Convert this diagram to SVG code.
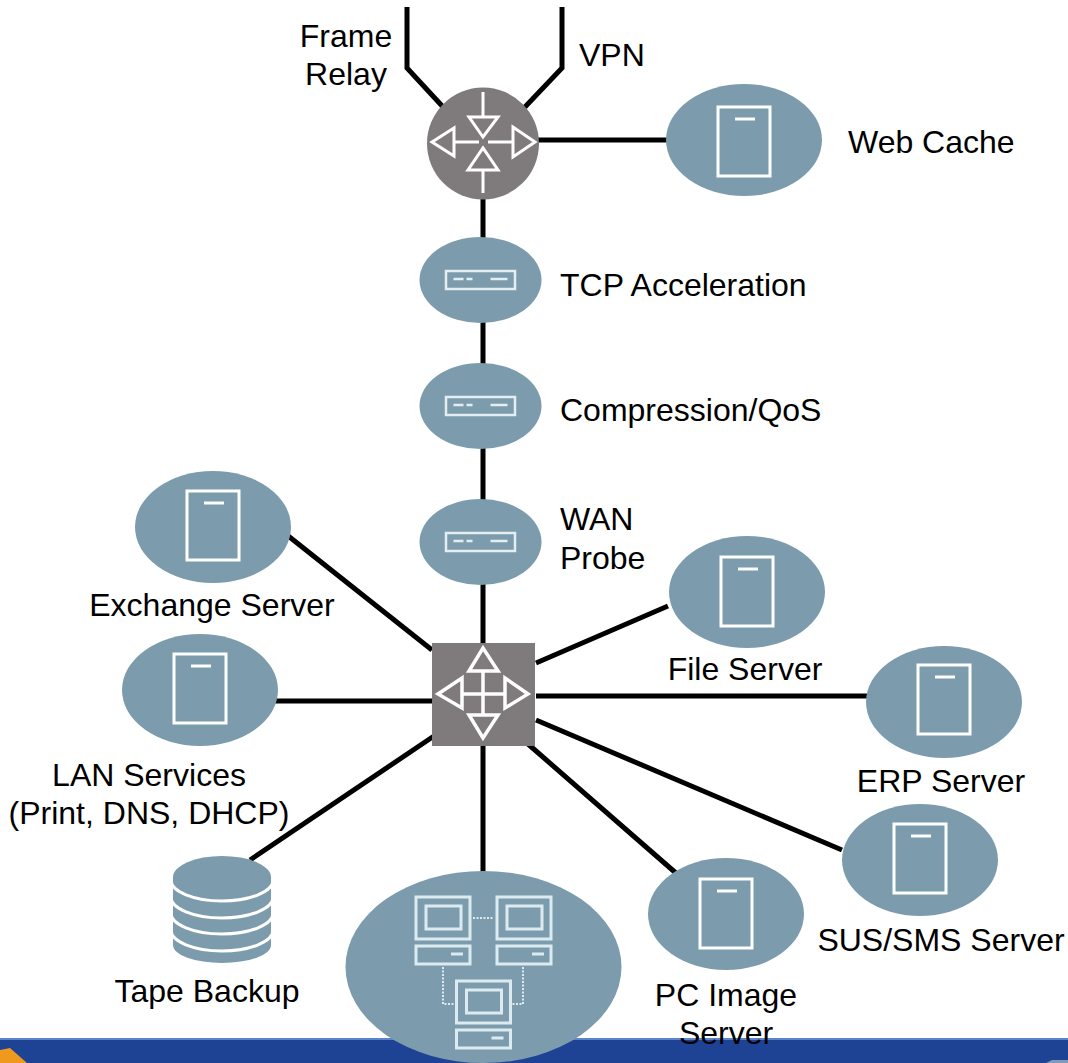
<svg xmlns="http://www.w3.org/2000/svg" width="1068" height="1063" viewBox="0 0 1068 1063">
<style>
text{font-family:"Liberation Sans",Arial,sans-serif;font-size:32px;fill:#000;transform:translateY(1px)}
.m{text-anchor:middle}
.c{fill:none;stroke:#000;stroke-width:5}
.b{fill:#7c9cad}
.w{fill:none;stroke:#fff;stroke-width:3}
.a{fill:none;stroke:#fff;stroke-width:3.500}
.l{fill:none;stroke:#e4eef2;stroke-width:2.500}
.p{fill:none;stroke:#dcebf0;stroke-width:3}
.d{fill:none;stroke:#dfeaef;stroke-width:2;stroke-dasharray:2 1.500}
.g{fill:#7f7b7c}
</style>
<defs>
<ellipse id="disc" class="b" rx="78" ry="56"/>
<g id="icon"><rect class="w" x="-26" y="0" width="52" height="69"/><path class="w" d="M-9 12H11"/></g>
<g id="box"><ellipse class="b" rx="61" ry="43"/><rect class="l" x="-34.500" y="-9" width="69" height="18"/><path class="l" d="M-27-1H-17M-14-1H-8M10-1H27"/></g>
<g id="pc"><rect class="p" x="-27" y="-42" width="54" height="42"/><rect class="p" x="-17" y="-33" width="35" height="23"/><rect class="p" x="-27" y="7" width="54" height="18"/><path class="p" d="M8 15H20"/></g>
</defs>
<rect x="0" y="1038" width="1068" height="25" fill="#1e4394"/>
<rect x="0" y="1038" width="1068" height="2" fill="#5c84c8"/>
<path d="M0 1050L10 1048L27 1063H0Z" fill="#ef9a1e"/>
<path d="M1046 1063L1052 1060H1068V1063Z" fill="#7f9ab8"/>
<g id="connectors">
<path class="c" d="M407 7V68L444 108M562 7V68L524 108M537 140H668M483 198V238M483 322V364M483 448V500M483 584V644M536 663L668 606M536 696H868M536 720L842 850M528 744L677 874M483 745V872M434 736L250 860M432 701H275M432 650L287 535"/>
</g>
<g id="router"><circle class="g" cx="483" cy="143.500" r="56"/><path class="w" d="M483 92V117M469 117H498L483 137ZM483 193V170M468 170H498L483 148ZM479 142H454M454 128V156L432 142ZM488 142H513M513 127V157L535 142Z"/></g>
<g id="web-cache"><use href="#disc" x="744" y="140"/><use href="#icon" x="744" y="107"/><text x="848" y="152">Web Cache</text></g>
<g id="tcp-acceleration"><use href="#box" x="480.500" y="280"/><text x="560" y="295">TCP Acceleration</text></g>
<g id="compression-qos"><use href="#box" x="480.500" y="406"/><text x="560" y="420">Compression/QoS</text></g>
<g id="wan-probe"><use href="#box" x="480.500" y="542"/><text x="560" y="529">WAN</text><text x="560" y="568">Probe</text></g>
<g id="frame-relay"><text x="346" y="46" class="m">Frame</text><text x="346" y="84" class="m">Relay</text></g>
<g id="vpn"><text x="579" y="65">VPN</text></g>
<g id="exchange-server"><use href="#disc" x="213" y="527"/><use href="#icon" x="213" y="491"/><text x="212" y="615" class="m">Exchange Server</text></g>
<g id="lan-services"><use href="#disc" x="200" y="690"/><use href="#icon" x="200" y="654"/><text x="149" y="785" class="m">LAN Services</text><text x="149" y="823" class="m">(Print, DNS, DHCP)</text></g>
<g id="file-server"><use href="#disc" x="747" y="592"/><use href="#icon" x="747" y="557"/><text x="745" y="679" class="m">File Server</text></g>
<g id="erp-server"><use href="#disc" x="944" y="702"/><use href="#icon" x="944" y="665"/><text x="941" y="791" class="m">ERP Server</text></g>
<g id="sus-sms-server"><use href="#disc" x="920" y="860"/><use href="#icon" x="920" y="824"/><text x="941" y="950" class="m">SUS/SMS Server</text></g>
<g id="pc-image-server"><use href="#disc" x="726" y="914"/><use href="#icon" x="726" y="879"/><text x="726" y="1005" class="m">PC Image</text><text x="726" y="1043" class="m">Server</text></g>
<g id="tape-backup">
<path class="b" d="M173 877H271V945A49 18 0 0 1 173 945Z"/>
<path d="M171 880A51 21 0 0 0 273 880M171 897A51 21 0 0 0 273 897M171 913A51 21 0 0 0 273 913M171 930A51 21 0 0 0 273 930" class="w"/>
<ellipse class="b" cx="222" cy="877" rx="49" ry="21"/>
<text x="207" y="1001" class="m">Tape Backup</text></g>
<g id="switch"><rect class="g" x="432" y="643" width="103" height="103"/><path class="a" d="M483 671V715M462 694H505M469 671H498L483 648ZM469 715H498L483 738ZM462 678V708L438 694ZM505 678V708L528 694Z"/></g>
<g id="workstations"><ellipse class="b" cx="483.500" cy="967" rx="138" ry="96"/>
<use href="#pc" x="443" y="939"/><use href="#pc" x="524" y="939"/><use href="#pc" x="483.500" y="1023"/>
<path class="d" d="M473 918H494M443 967V1004H457M523 967V1004H510"/></g>
</svg>
